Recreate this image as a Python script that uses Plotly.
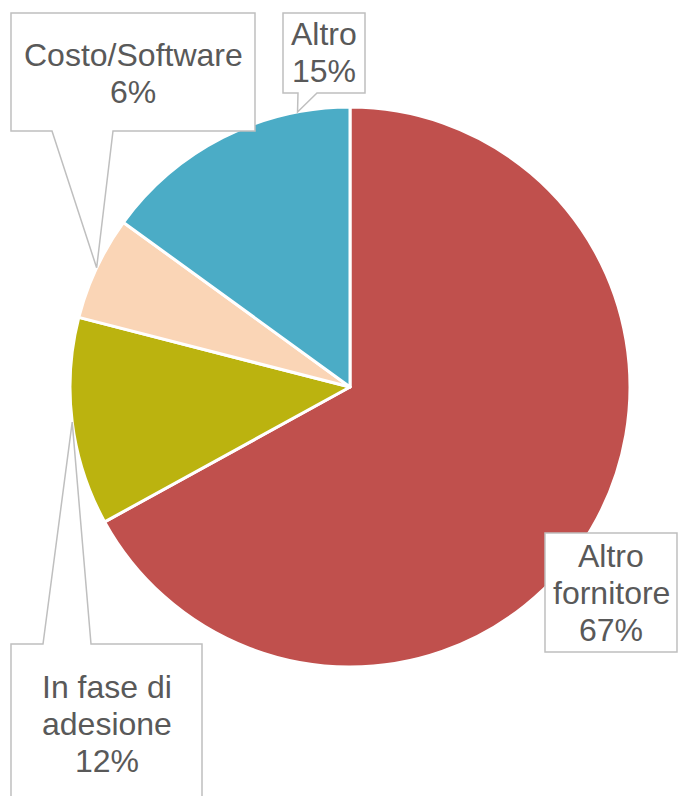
import math
import plotly.graph_objects as go

# ---- data ----
categories = ["Altro fornitore", "In fase di adesione", "Costo/Software", "Altro"]
label_lines = [["Altro", "fornitore"], ["In fase di", "adesione"], ["Costo/Software"], ["Altro"]]
values = [67, 12, 6, 15]
colors = ["#C0504D", "#BBB30F", "#FAD5B6", "#4BACC6"]

W, H = 679, 796
# pie placement (pixels)
PX0, PX1, PY0, PY1 = 70, 630, 107, 667
cx, cy = (PX0 + PX1) / 2, (PY0 + PY1) / 2
R = (PX1 - PX0) / 2

def fx(x):
    return x / W

def fy(y):
    return 1 - y / H

fig = go.Figure(go.Pie(
    labels=categories, values=values, sort=False, direction="clockwise",
    rotation=0, marker=dict(colors=colors, line=dict(color="white", width=3)),
    textinfo="none", hoverinfo="label+percent", showlegend=False,
    domain=dict(x=[fx(PX0), fx(PX1)], y=[fy(PY1), fy(PY0)]),
))

total = sum(values)
pcts = [round(v / total * 100) for v in values]

callouts = {
    "Altro fornitore": dict(box=(545, 533, 677, 652), base=None, frac=0.5, tx=611, by=567),
    "In fase di adesione": dict(box=(11, 644, 202, 810), base=(43, 91), frac=0.5, tx=106.5, by=698, top=True),
    "Costo/Software": dict(box=(11, 13, 255, 131), base=(52, 113), frac=0.5, tx=133, by=66),
    "Altro": dict(box=(283, 13, 365, 93), base=(298, 317), frac=0.8, tx=324, by=45),
}

shapes = []
annotations = []
cum = 0.0
LS = 37
for cat, lines, v, p in zip(categories, label_lines, values, pcts):
    span = v / total * 360
    c = callouts[cat]
    ang = math.radians(cum + c["frac"] * span)
    tipx = cx + R * math.sin(ang)
    tipy = cy - R * math.cos(ang)
    x0, y0, x1, y1 = c["box"]
    if c["base"] is None:
        pts = [(x0, y0), (x1, y0), (x1, y1), (x0, y1)]
    elif c.get("top"):
        xa, xb = c["base"]
        pts = [(x0, y0), (xa, y0), (tipx, tipy), (xb, y0), (x1, y0), (x1, y1), (x0, y1)]
    else:
        xa, xb = c["base"]
        pts = [(x0, y0), (x1, y0), (x1, y1), (xb, y1), (tipx, tipy), (xa, y1), (x0, y1)]
    path = "M " + " L ".join(f"{fx(a):.5f},{fy(b):.5f}" for a, b in pts) + " Z"
    shapes.append(dict(type="path", path=path, xref="paper", yref="paper",
                       fillcolor="white", line=dict(color="#BFBFBF", width=1.5), layer="above"))
    all_lines = lines + [f"{p}%"]
    for i, t in enumerate(all_lines):
        base_y = c["by"] + i * LS
        annotations.append(dict(text=t, x=fx(c["tx"]), y=fy(base_y - 11), xref="paper", yref="paper",
                                xanchor="center", yanchor="middle", showarrow=False,
                                font=dict(family="Liberation Sans, Arial", size=32, color="#595959")))
    cum += span

fig.update_layout(
    width=W, height=H, margin=dict(l=0, r=0, t=0, b=0),
    paper_bgcolor="white", plot_bgcolor="white",
    shapes=shapes, annotations=annotations,
)

fig.write_html("out.html", config={"displayModeBar": False},
               post_script="document.body.style.margin='0';document.body.style.overflow='hidden';")
